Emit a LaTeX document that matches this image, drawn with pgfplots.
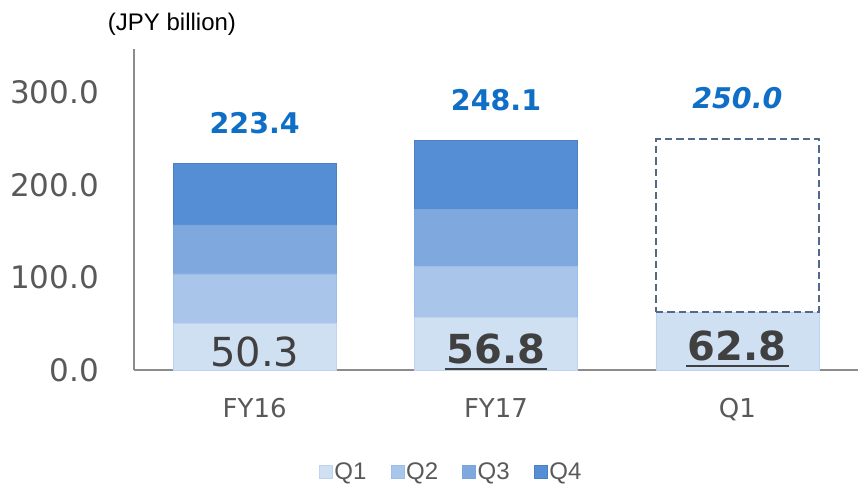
\documentclass[border=0pt]{standalone}
\usepackage{fontspec}
\usepackage{pgfplots}
\pgfplotsset{compat=1.18}
\newfontfamily\dejavu{DejaVu Sans}
\newfontfamily\arialf{Liberation Sans}
\definecolor{qa}{HTML}{D0E0F3}
\definecolor{qb}{HTML}{A9C5EA}
\definecolor{qc}{HTML}{7FA9DE}
\definecolor{qd}{HTML}{558ED5}
\definecolor{tickgray}{HTML}{595959}
\definecolor{axgray}{HTML}{8C8C8C}
\definecolor{tot}{HTML}{0F6FC6}
\definecolor{dashc}{HTML}{53698A}
\definecolor{lbl}{HTML}{404040}
% underline a bold figure
\newcommand\ulb[1]{\setbox0\hbox{#1}\rlap{\kern-2pt\rule[-7pt]{\dimexpr\wd0+4pt\relax}{2.6pt}}\box0}
% nodes of stacked bars sit at the middle of the segment: lift the total
% label by half the segment (321pt for 347 units) plus a gap
\pgfplotsset{base/.style={at={(134pt,115pt)}, anchor=south west, scale only axis,
  width=724pt, height=321pt, xmin=-0.5, xmax=2.5, ymin=0, ymax=347,
  ybar stacked, bar width=163pt, clip=false},
  total/.style={point meta=explicit,
  visualization depends on={rawy \as \rawy},
  nodes near coords={\pgfmathprintnumber[fixed,fixed zerofill,precision=1,assume math mode=true]{\pgfplotspointmeta}},
  every node near coord/.append style={anchor=south, yshift={(29+0.46254*\rawy)*1pt}, inner sep=0pt,
    text=tot, font=\dejavu\bfseries\fontsize{28.5}{32}\selectfont}}}
\begin{document}
\begin{tikzpicture}
\path[use as bounding box] (0,0) rectangle (858pt,485pt);
\begin{axis}[base,
  axis x line*=bottom, axis y line*=left,
  axis line style={draw=axgray, line width=1.3pt},
  major tick length=0pt,
  ytick={0,100,200,300},
  yticklabel={\pgfmathprintnumber[fixed,fixed zerofill,precision=1,assume math mode=true]{\tick}},
  yticklabel style={inner sep=0pt, xshift=-35pt, text=tickgray, font=\dejavu\fontsize{31}{36}\selectfont},
  xtick={0,1,2}, xticklabels={FY16,FY17,Q1},
  xticklabel style={inner sep=0pt, yshift=-28pt, text=tickgray, font=\dejavu\fontsize{26}{30}\selectfont},
  legend columns=4,
  legend style={at={(0.438,-0.318)}, anchor=center, draw=none, fill=none,
    font=\arialf\fontsize{24}{26}\selectfont, text=tickgray,
    /tikz/every even column/.append style={column sep=22pt}},
  legend image code/.code={\fill[#1] (0pt,-6.5pt) rectangle (13pt,6.5pt);},
]
\addplot[fill=qa, draw=qa!85!qd, line width=0.6pt,
  visualization depends on={value \coordindex \as \idx},
  nodes near coords={\ifnum\idx=0 \pgfmathprintnumber[fixed,fixed zerofill,precision=1,assume math mode=true]{\pgfplotspointmeta}\else\bfseries\ulb{\pgfmathprintnumber[fixed,fixed zerofill,precision=1,assume math mode=true]{\pgfplotspointmeta}}\fi},
  every node near coord/.append style={anchor=base, yshift=-19.5pt, inner sep=0pt,
    text=lbl, font=\dejavu\fontsize{40}{44}\selectfont}]
  coordinates {(0,50.3) (1,56.8) (2,62.8)};
\addlegendentry{Q1}
\addplot[fill=qb, draw=qb!85!qd, line width=0.6pt]
  coordinates {(0,53.5) (1,55.6)};
\addlegendentry{Q2}
\addplot[fill=qc, draw=qc!85!qd, line width=0.6pt]
  coordinates {(0,53.0) (1,61.0)};
\addlegendentry{Q3}
\addplot[fill=qd, draw=qd!90!black, line width=0.6pt, total]
  coordinates {(0,66.6) [223.4] (1,74.7) [248.1]};
\addlegendentry{Q4}
\node[font=\arialf\fontsize{24}{28}\selectfont, anchor=center] at (rel axis cs:0.0525,1.078) {(JPY billion)};
\end{axis}
\begin{axis}[base, hide axis]
\addplot[draw=none, fill=none] coordinates {(2,62.8)};
\addplot[fill=none, draw=dashc, line width=2.4pt, dash pattern=on 7.5pt off 4pt, total,
  every node near coord/.append style={font=\dejavu\bfseries\itshape\fontsize{28.5}{32}\selectfont}]
  coordinates {(2,187.2) [250.0]};
\end{axis}
\end{tikzpicture}
\end{document}
